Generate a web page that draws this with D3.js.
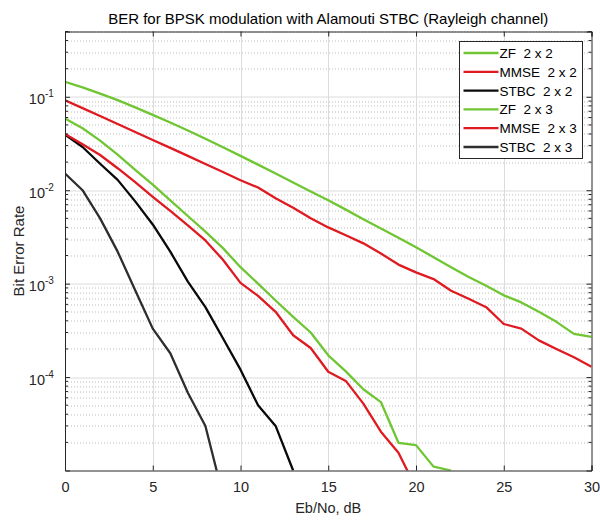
<!DOCTYPE html>
<html>
<head>
<meta charset="utf-8">
<script src="https://cdn.jsdelivr.net/npm/d3@7"></script>
<style>
  body { margin: 0; background: #fff; }
  text { font-family: "Liberation Sans", Arial, Helvetica, sans-serif; fill: #262626; }
</style>
</head>
<body>
<div class="container"></div>
<script>
"use strict";

var width = 600;
var height = 521;

// Eb/No points (dB)
var snrDb = [0, 1, 2, 3, 4, 5, 6, 7, 8, 9, 10, 11, 12, 13, 14, 15, 16, 17, 18, 19, 20,
             21, 22, 23, 24, 25, 26, 27, 28, 29, 30];

// BER values, one per dB starting at 0
var zf22 = [0.145, 0.126, 0.108, 0.092, 0.077, 0.064, 0.053, 0.0435, 0.0355, 0.0288, 0.0233,
            0.0188, 0.0151, 0.0121, 0.0097, 0.0078, 0.0062, 0.0049, 0.0039, 0.0031, 0.00245,
            0.00192, 0.0015, 0.00118, 0.00095, 0.00075, 0.00063, 0.0005, 0.00039, 0.00029, 0.00027];
var mmse22 = [0.0916, 0.0757, 0.0622, 0.0512, 0.042, 0.0345, 0.0284, 0.0233, 0.0191, 0.0157, 0.0128,
              0.0107, 0.0082, 0.0065, 0.005, 0.004, 0.0033, 0.0027, 0.0021, 0.0016, 0.00132,
              0.00112, 0.00084, 0.00069, 0.00056, 0.00037, 0.00033, 0.000247, 0.0002, 0.000163, 0.000129];
var stbc22 = [0.0395, 0.029, 0.0192, 0.0129, 0.0076, 0.0043, 0.0022, 0.00105, 0.00056, 0.00026,
              0.00012, 0.00005, 0.00003, 0.00001];
var zf23 = [0.0587, 0.046, 0.034, 0.024, 0.0165, 0.0115, 0.0078, 0.0053, 0.0036, 0.0024, 0.0015,
            0.001, 0.00066, 0.00044, 0.0003, 0.000171, 0.000115, 0.000074, 0.000054, 0.0000198,
            0.0000187, 0.000011, 0.00001];
var mmse23 = [0.04, 0.031, 0.0238, 0.0172, 0.0122, 0.0085, 0.006, 0.0042, 0.0029, 0.0018, 0.00102,
              0.00074, 0.0005, 0.00028, 0.000205, 0.000114, 0.000091, 0.000052, 0.000026,
              0.0000155, 0.0000065];
var stbc23 = [0.0151, 0.01, 0.005, 0.0022, 0.00085, 0.00033, 0.00018, 0.000068, 0.00003, 0.0000054];

var seriesNames = ["ZF  2 x 2", "MMSE  2 x 2", "STBC  2 x 2", "ZF  2 x 3", "MMSE  2 x 3", "STBC  2 x 3"];
var seriesColors = ["#6fc632", "#df1a20", "#0a0a0a", "#6fc632", "#df1a20", "#2e2e2e"];
var seriesValues = [zf22, mmse22, stbc22, zf23, mmse23, stbc23];

var xTicks = [0, 5, 10, 15, 20, 25, 30];
var yTicks = [1e-4, 1e-3, 1e-2, 1e-1];
var yTickExp = ["-4", "-3", "-2", "-1"];

var margin = {top: 31.5, right: 8.5, bottom: 50.5, left: 65};
var plotW = width - margin.left - margin.right;
var plotH = height - margin.top - margin.bottom;

var x = d3.scaleLinear().domain([0, 30]).range([0, plotW]);
var y = d3.scaleLog().domain([1e-5, 0.5]).range([plotH, 0]);

var svg = d3.select(".container").append("svg")
    .attr("width", width)
    .attr("height", height);

svg.append("defs").append("clipPath")
    .attr("id", "plot-clip")
    .append("rect")
    .attr("width", plotW)
    .attr("height", plotH);

var g = svg.append("g")
    .attr("transform", "translate(" + margin.left + "," + margin.top + ")");

// Minor grid (2..9 per decade), dotted
var minorTicks = [];
for (var e = -5; e <= -1; e++) {
    for (var m = 2; m <= 9; m++) {
        var v = m * Math.pow(10, e);
        if (v <= 0.5) minorTicks.push(v);
    }
}

g.append("g").selectAll("line")
    .data(minorTicks)
    .enter().append("line")
    .attr("x1", 0).attr("x2", plotW)
    .attr("y1", function(d) { return Math.round(y(d)) + 0.5; })
    .attr("y2", function(d) { return Math.round(y(d)) + 0.5; })
    .attr("stroke", "#bdbdbd")
    .attr("stroke-dasharray", "1,2");

// Major grid
g.append("g").selectAll("line")
    .data(yTicks)
    .enter().append("line")
    .attr("x1", 0).attr("x2", plotW)
    .attr("y1", function(d) { return Math.round(y(d)) + 0.5; })
    .attr("y2", function(d) { return Math.round(y(d)) + 0.5; })
    .attr("stroke", "#dcdcdc");

g.append("g").selectAll("line")
    .data(xTicks.slice(1, -1))
    .enter().append("line")
    .attr("x1", function(d) { return Math.round(x(d)) + 0.5; })
    .attr("x2", function(d) { return Math.round(x(d)) + 0.5; })
    .attr("y1", 0).attr("y2", plotH)
    .attr("stroke", "#dcdcdc");

// Curves
var line = d3.line()
    .x(function(d, i) { return x(snrDb[i]); })
    .y(function(d) { return y(d); });

g.append("g")
    .attr("clip-path", "url(#plot-clip)")
    .selectAll("path")
    .data(seriesValues)
    .enter().append("path")
    .attr("fill", "none")
    .attr("stroke", function(d, i) { return seriesColors[i]; })
    .attr("stroke-width", 2.3)
    .attr("stroke-linejoin", "round")
    .attr("d", line);

// Axes: bottom/left with labels, top/right tick marks only
var axisColor = "#262626";

var xAxis = g.append("g")
    .attr("transform", "translate(0," + plotH + ")")
    .call(d3.axisBottom(x).tickValues(xTicks).tickSize(-5).tickPadding(11).tickFormat(d3.format("d")));

g.append("g")
    .call(d3.axisTop(x).tickValues(xTicks).tickSize(-5).tickFormat(""));

var yAxis = g.append("g")
    .call(d3.axisLeft(y).tickValues(yTicks).tickSize(-5).tickFormat(""));

g.append("g")
    .attr("transform", "translate(" + plotW + ",0)")
    .call(d3.axisRight(y).tickValues(yTicks).tickSize(-5).tickFormat(""));

// minor ticks on both y sides
[0, plotW].forEach(function(px) {
    g.append("g").selectAll("line")
        .data(minorTicks)
        .enter().append("line")
        .attr("x1", px)
        .attr("x2", px === 0 ? 3 : plotW - 3)
        .attr("y1", function(d) { return y(d); })
        .attr("y2", function(d) { return y(d); })
        .attr("stroke", axisColor);
});

g.selectAll(".domain").attr("stroke", axisColor);
g.selectAll(".tick line").attr("stroke", axisColor);

xAxis.selectAll("text")
    .attr("font-size", 14.5)
    .style("fill", "#262626");

// y tick labels 10^k
yAxis.selectAll(".tick").each(function(d, i) {
    var t = d3.select(this).append("text")
        .attr("x", -20)
        .attr("y", 7)
        .attr("font-size", 14.5)
        .attr("text-anchor", "end");
    t.append("tspan").text("10");
    t.append("tspan")
        .attr("x", -20)
        .attr("dy", -7)
        .attr("text-anchor", "start")
        .attr("font-size", 10)
        .text(yTickExp[i]);
});

// Title and axis labels
svg.append("text")
    .attr("x", margin.left + plotW / 2)
    .attr("y", 24)
    .attr("text-anchor", "middle")
    .attr("font-size", 15)
    .style("fill", "#000")
    .text("BER for BPSK modulation with Alamouti STBC (Rayleigh channel)");

svg.append("text")
    .attr("x", margin.left + plotW / 2)
    .attr("y", 513)
    .attr("text-anchor", "middle")
    .attr("font-size", 14.5)
    .text("Eb/No, dB");

svg.append("text")
    .attr("transform", "translate(24," + (margin.top + plotH / 2) + ") rotate(-90)")
    .attr("text-anchor", "middle")
    .attr("font-size", 15)
    .text("Bit Error Rate");

// Legend
var legend = svg.append("g")
    .attr("transform", "translate(459.5,41.5)");

legend.append("rect")
    .attr("width", 123)
    .attr("height", 117)
    .attr("fill", "#fff")
    .attr("stroke", axisColor);

var rows = legend.selectAll(".row")
    .data(seriesNames)
    .enter().append("g")
    .attr("class", "row")
    .attr("transform", function(d, i) { return "translate(0," + (11.5 + i * 18.8) + ")"; });

rows.append("line")
    .attr("x1", 4).attr("x2", 39)
    .attr("stroke", function(d, i) { return seriesColors[i]; })
    .attr("stroke-width", 2.3);

rows.append("text")
    .attr("x", 40)
    .attr("y", 5)
    .attr("font-size", 13.5)
    .style("fill", "#000")
    .style("white-space", "pre")
    .attr("xml:space", "preserve")
    .text(function(d) { return d; });
</script>
</body>
</html>
